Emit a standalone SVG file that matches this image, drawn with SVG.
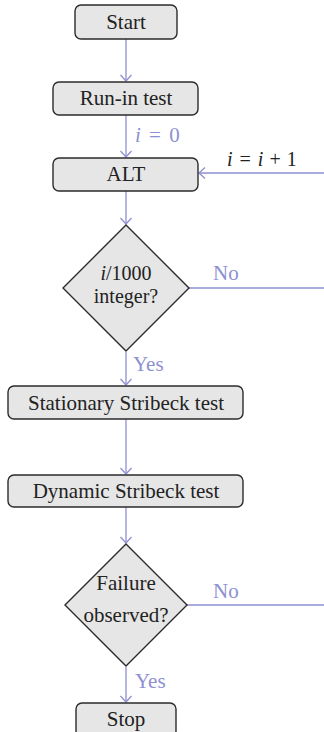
<svg xmlns="http://www.w3.org/2000/svg" width="324" height="732" viewBox="0 0 324 732">
  <style>
    .box { fill: #e6e6e6; stroke: #2b2b2b; stroke-width: 1.4; }
    .lbl { font-family: "Liberation Serif", "DejaVu Serif", serif; font-size: 21px; fill: #222; text-anchor: middle; }
    .dlbl { font-size: 20px; }
    .edge { fill: none; stroke: #8e90d2; stroke-width: 1.3; }
    .elbl { font-family: "Liberation Serif", "DejaVu Serif", serif; font-size: 21px; fill: #8e90d2; }
    .math { font-family: "Liberation Serif", "DejaVu Serif", serif; font-size: 20px; fill: #222; }
  </style>
  <defs>
    <marker id="arrow" markerUnits="userSpaceOnUse" markerWidth="14" markerHeight="14" viewBox="-8 -7 10 14" refX="0" refY="0" orient="auto">
      <path d="M-6,-5.5 L0,0 L-6,5.5" fill="none" stroke="#8e90d2" stroke-width="1.3"/>
    </marker>
  </defs>

  <!-- connectors -->
  <g id="connectors">
    <path class="edge" d="M126,39 V81" marker-end="url(#arrow)"/>
    <path class="edge" d="M126,115 V157" marker-end="url(#arrow)"/>
    <path class="edge" d="M126,191 V224" marker-end="url(#arrow)"/>
    <path class="edge" d="M126,352 V385" marker-end="url(#arrow)"/>
    <path class="edge" d="M126,419 V474" marker-end="url(#arrow)"/>
    <path class="edge" d="M126,507 V543" marker-end="url(#arrow)"/>
    <path class="edge" d="M126,667 V702" marker-end="url(#arrow)"/>
    <!-- loop back to ALT -->
    <path class="edge" d="M187,605 H330 V173 H199" marker-end="url(#arrow)"/>
    <path class="edge" d="M189,288 H330"/>
    <text class="elbl" x="135" y="142" xml:space="preserve"><tspan font-style="italic">i</tspan> <tspan dx="3">=</tspan> <tspan dx="3">0</tspan></text>
    <text class="math" x="227" y="166" xml:space="preserve"><tspan font-style="italic">i</tspan> <tspan dx="2">=</tspan> <tspan dx="2" font-style="italic">i</tspan> <tspan dx="1">+</tspan> <tspan dx="1">1</tspan></text>
    <text class="elbl" x="213" y="280">No</text>
    <text class="elbl" x="133" y="371">Yes</text>
    <text class="elbl" x="213" y="598">No</text>
    <text class="elbl" x="135" y="688">Yes</text>
  </g>

  <g id="start">
    <rect class="box" x="75" y="5" width="102" height="34" rx="6"/>
    <text class="lbl" x="126" y="29">Start</text>
  </g>
  <g id="runin">
    <rect class="box" x="53" y="82" width="145" height="33" rx="6"/>
    <text class="lbl" x="126" y="105">Run-in test</text>
  </g>
  <g id="alt">
    <rect class="box" x="53" y="158" width="145" height="33" rx="6"/>
    <text class="lbl" x="126" y="181">ALT</text>
  </g>
  <g id="check-integer">
    <polygon class="box" points="126,225 189,288 126,351 63,288"/>
    <text class="lbl dlbl" x="126" y="280"><tspan font-style="italic">i</tspan>/1000</text>
    <text class="lbl dlbl" x="126" y="303">integer?</text>
  </g>
  <g id="stationary">
    <rect class="box" x="8" y="386" width="235" height="33" rx="6"/>
    <text class="lbl" x="126" y="410">Stationary Stribeck test</text>
  </g>
  <g id="dynamic">
    <rect class="box" x="8" y="475" width="235" height="32" rx="6"/>
    <text class="lbl" x="126" y="498">Dynamic Stribeck test</text>
  </g>
  <g id="check-failure">
    <polygon class="box" points="126,544 187,605 126,666 65,605"/>
    <text class="lbl" x="126" y="590">Failure</text>
    <text class="lbl" x="126" y="622">observed?</text>
  </g>
  <g id="stop">
    <rect class="box" x="76" y="703" width="100" height="34" rx="6"/>
    <text class="lbl" x="126" y="726">Stop</text>
  </g>
</svg>
